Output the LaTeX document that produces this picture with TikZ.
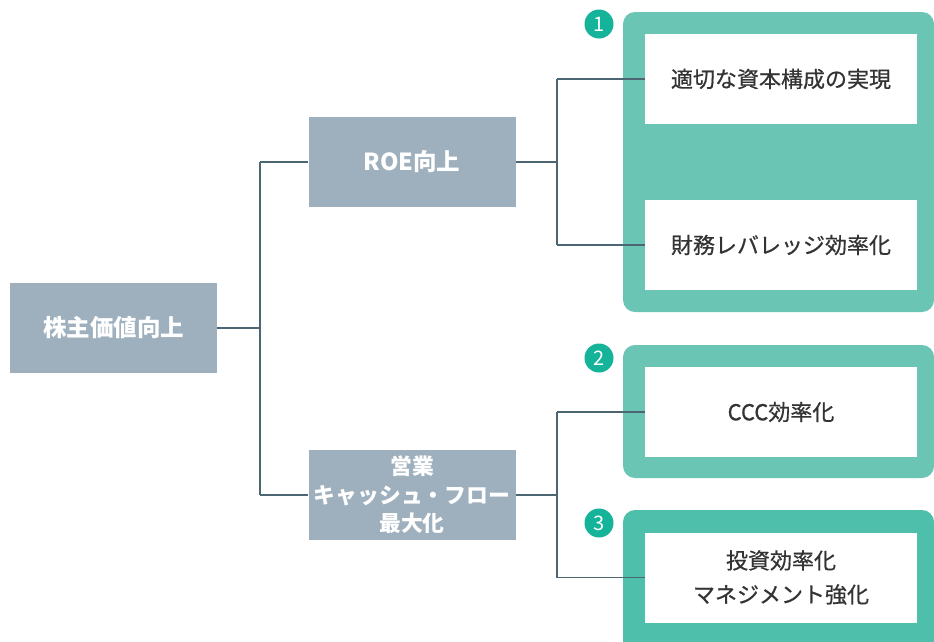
\documentclass[tikz,border=0pt]{standalone}
\usepackage{fontspec}
\newfontfamily\jp{Noto Sans CJK JP}
\newfontfamily\jpm{Noto Sans CJK JP}[FakeBold=0.6]
\definecolor{boxgrey}{HTML}{9EB0BD}
\definecolor{panelA}{HTML}{6BC5B5}
\definecolor{panelB}{HTML}{4DBFAB}
\definecolor{badge}{HTML}{14B39A}
\definecolor{linec}{HTML}{4B6672}
\definecolor{txt}{HTML}{333333}
\tikzset{
  greybox/.style={fill=boxgrey, minimum width=207pt, minimum height=90pt, inner sep=0pt, align=center,
    text=white, font=\jp\bfseries\fontsize{23.5}{28}\selectfont},
  greysmall/.style={font=\jp\bfseries\fontsize{21.8}{28.5}\selectfont},
  whitebox/.style={fill=white, minimum width=272pt, minimum height=90pt, inner sep=0pt, align=center,
    text=txt, font=\jpm\fontsize{22}{34}\selectfont},
  panel/.style={rounded corners=12pt},
  badgec/.style={circle, fill=badge, minimum size=29pt, inner sep=0pt, text=white,
    font=\jp\fontsize{20}{20}\selectfont},
  conn/.style={draw=linec, line width=1.6pt},
}
\begin{document}
\begin{tikzpicture}[x=1pt,y=-1pt]
\useasboundingbox (0,0) rectangle (934,641);
\clip (0,0) rectangle (934,641);
% panels
\fill[panelA, panel] (623,12) rectangle (934,312);
\fill[panelA, panel] (623,345) rectangle (934,478);
\fill[panelB, panel] (623,510) rectangle (934,660);
% badges
\node[badgec] (b1) at (599,24) {1};
\node[badgec] (b2) at (599,358) {2};
\node[badgec] (b3) at (599,523) {3};
% grey boxes
\node[greybox] (root) at (113.5,328) {株主価値向上};
\node[greybox] (roe) at (412,162) {ROE向上};
\node[greybox, greysmall] (op) at (412,495) {営業\\キャッシュ・フロー\\最大化};
% white boxes
\node[whitebox] (w1) at (781,79) {適切な資本構成の実現};
\node[whitebox] (w2) at (781,245) {財務レバレッジ効率化};
\node[whitebox] (w3) at (781,412) {CCC効率化};
\node[whitebox] (w4) at (781,577.5) {投資効率化\\マネジメント強化};
% junctions
\coordinate (j0) at (260,328);
\coordinate (j1) at (557,162);
\coordinate (j2) at (557,495);
% connectors
\draw[conn] (root.east) -- (j0);
\draw[conn] (j0 |- roe.west) -- (roe.west);
\draw[conn] (j0 |- op.west) -- (op.west);
\draw[conn] (j0 |- roe.west) -- (j0 |- op.west);
\draw[conn] (roe.east) -- (j1);
\draw[conn] (op.east) -- (j2);
\draw[conn] (j1 |- w1.west) -- (w1.west);
\draw[conn] (j1 |- w2.west) -- (w2.west);
\draw[conn] (j1 |- w1.west) -- (j1 |- w2.west);
\draw[conn] (j2 |- w3.west) -- (w3.west);
\draw[conn] (j2 |- w4.west) -- (w4.west);
\draw[conn] (j2 |- w3.west) -- (j2 |- w4.west);
\end{tikzpicture}
\end{document}
